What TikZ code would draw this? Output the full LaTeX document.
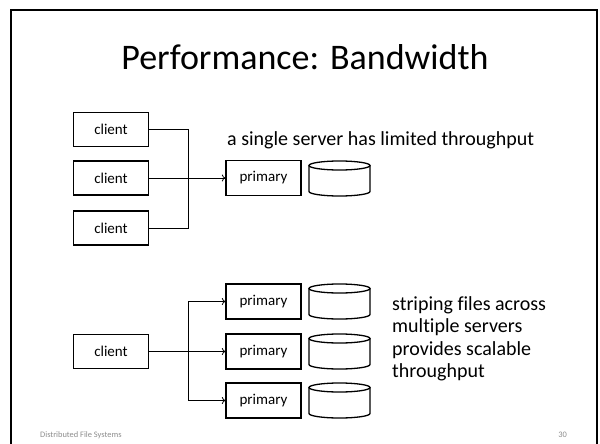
\documentclass[tikz,border=0pt]{standalone}
\usepackage{fontspec}
\setmainfont{Carlito}[Ligatures=NoCommon]
\usetikzlibrary{arrows.meta}
\definecolor{footgray}{HTML}{8C8C8C}
\tikzset{
  box/.style={draw, line width=1.3pt, minimum width=75pt, minimum height=34pt, inner sep=0pt, font=\fontsize{15}{18}\selectfont},
  wire/.style={line width=0.8pt},
  arr/.style={wire, -{To[length=3.5pt,width=7pt]}},
  cyl/.style={line width=1.3pt},
  body/.style={inner sep=0pt, font=\fontsize{20}{22.5}\selectfont},
  foot/.style={inner sep=0pt, text=footgray, font=\fontsize{8.4}{10}\selectfont}
}
\newcommand\drum[2]{%
  \draw[cyl] (#1-30.5,#2-13) -- (#1-30.5,#2+13) arc[start angle=180,end angle=0,x radius=30.5,y radius=4.5] -- (#1+30.5,#2-13);
  \draw[cyl] (#1,#2-13) ellipse[x radius=30.5,y radius=4.5];}
\begin{document}
\begin{tikzpicture}[x=1pt,y=-1pt]
\useasboundingbox (0,0) rectangle (600,444);
% slide frame
\draw[line width=2pt] (11,450) -- (11,10) -- (597,10) -- (597,450);
% title
\node[inner sep=0pt, anchor=base, font=\fontsize{36}{40}\selectfont] (title) at (305,70) {Performance: Bandwidth};
% top scenario
\node[box] (c1) at (111,129.5) {client};
\node[box] (c2) at (111,178) {client};
\node[box] (c3) at (111,228) {client};
\node[box, minimum height=35pt] (p0) at (263.5,178) {primary};
\drum{339.5}{178.5}
\node[body, anchor=base west] (t1) at (227,145) {a single server has limited throughput};
\coordinate (ja) at (188,129.5);
\coordinate (jb) at (188,228);
\draw[wire] (c1.east) -- (ja) -- (jb) -- (c3.east);
\draw[arr] (c2.east) -- (p0.west);
% bottom scenario
\node[box] (c4) at (111,351.5) {client};
\node[box, minimum height=35pt] (p1) at (263.5,301.5) {primary};
\node[box, minimum height=35pt] (p2) at (263.5,351.5) {primary};
\node[box, minimum height=35pt] (p3) at (263.5,400.5) {primary};
\drum{339.5}{301.5}
\drum{339.5}{351.5}
\drum{339.5}{400.5}
\coordinate (jt) at (188,301.5);
\coordinate (jl) at (188,400.5);
\draw[wire] (jt) -- (jl);
\draw[arr] (jt) -- (p1.west);
\draw[arr] (c4.east) -- (p2.west);
\draw[arr] (jl) -- (p3.west);
\node[body, anchor=north west, align=left] (t2) at (392,296) {striping files across\\multiple servers\\provides scalable\\throughput};
% footer
\node[foot, anchor=base west] (f1) at (40,437) {Distributed File Systems};
\node[foot, anchor=base east] (f2) at (567,437) {30};
\end{tikzpicture}
\end{document}
